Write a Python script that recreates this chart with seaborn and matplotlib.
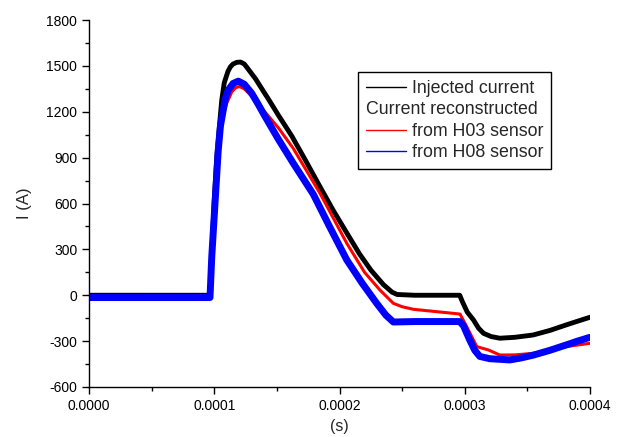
import numpy as np
import pandas as pd
import seaborn as sns
import matplotlib.pyplot as plt
from matplotlib.lines import Line2D
from matplotlib.ticker import MultipleLocator, FormatStrFormatter

# time in microseconds, current in A
t_inj = [0, 96.5, 98, 100, 102, 104.6, 106, 108, 111, 113, 115, 118, 121, 124, 127, 133, 138,
         145, 151, 162, 173, 184.4, 195, 206, 216, 225, 235, 242, 246, 260, 280, 296, 298,
         302, 307, 311, 315, 321, 328, 340, 354.5, 368, 381, 390, 400]
i_inj = [0, 0, 260, 620, 900, 1150, 1277, 1390, 1465, 1495, 1512, 1523, 1525, 1512, 1480, 1415, 1350,
         1260, 1180, 1040, 880, 710, 555, 405, 270, 165, 70, 20, 5, 0, 0, 0, -40,
         -110, -162, -215, -249, -270, -281, -275, -260, -230, -194, -170, -144]

t_h03 = [0, 96.6, 98.5, 101, 104.6, 107, 109.9, 114, 117, 120, 124, 130, 137.9, 151.2, 163.1,
         184.4, 205.8, 220, 232.3, 243, 250, 259, 285.6, 296.2, 301.6, 309.6, 319, 328,
         340, 354.5, 368, 381, 400]
i_h03 = [-10, -5, 250, 600, 1059, 1180, 1255, 1330, 1357, 1365, 1350, 1300, 1223, 1095, 960,
         667, 340, 150, 34, -53, -75, -92, -114, -123, -206, -336, -358, -391,
         -390, -380, -360, -336, -314]

t_h08 = [0, 96.6, 98, 100, 103.2, 105, 107.2, 109, 111.2, 115, 119.2, 124, 129.9, 135, 140.5,
         151.2, 163.1, 179.1, 192, 205.8, 218, 229.7, 237, 243, 260, 280, 296, 299, 304,
         308, 312, 320, 336, 345, 355, 368, 381, 390, 400]
i_h08 = [-15, -15, 250, 520, 950, 1110, 1212, 1290, 1342, 1385, 1400, 1380, 1321, 1250, 1170,
         1020, 863, 660, 450, 231, 80, -53, -130, -175, -172, -172, -172, -200, -293,
         -360, -400, -415, -423, -410, -391, -360, -325, -300, -275]

labels = ["Injected current", "from H03 sensor", "from H08 sensor"]

df_inj = pd.DataFrame({"t": np.array(t_inj) * 1e-6, "i": i_inj})
df_h03 = pd.DataFrame({"t": np.array(t_h03) * 1e-6, "i": i_h03})
df_h08 = pd.DataFrame({"t": np.array(t_h08) * 1e-6, "i": i_h08})

sns.set_style("ticks")
plt.rcParams["font.family"] = ["Liberation Sans", "DejaVu Sans"]
plt.rcParams["axes.unicode_minus"] = False

fig = plt.figure(figsize=(6.26, 4.37), dpi=100)
ax = fig.add_axes([89 / 626, 50 / 437, 501 / 626, 367 / 437])

sns.lineplot(data=df_inj, x="t", y="i", color="black", lw=3.5, ax=ax)
sns.lineplot(data=df_h03, x="t", y="i", color="red", lw=2.2, ax=ax)
sns.lineplot(data=df_h08, x="t", y="i", color="blue", lw=5.0, ax=ax)

ax.set_xlim(0, 0.0004)
ax.set_ylim(-600, 1800)
ax.xaxis.set_major_locator(MultipleLocator(0.0001))
ax.xaxis.set_minor_locator(MultipleLocator(0.00005))
ax.yaxis.set_major_locator(MultipleLocator(300))
ax.yaxis.set_minor_locator(MultipleLocator(150))
ax.xaxis.set_major_formatter(FormatStrFormatter("%.4f"))
ax.tick_params(which="major", length=5, width=1, labelsize=10, color="black", labelcolor="black")
ax.tick_params(which="minor", length=3, width=1, color="black")
for s in ["top", "right"]:
    ax.spines[s].set_visible(False)
for s in ["left", "bottom"]:
    ax.spines[s].set_color("black")
    ax.spines[s].set_linewidth(1)

ax.set_xlabel("(s)", fontsize=11.5, labelpad=4.5)
ax.set_ylabel("I (A)", fontsize=12, labelpad=10.5)

handles = [Line2D([], [], color="black", lw=1),
           Line2D([], [], color="none", lw=1),
           Line2D([], [], color="red", lw=1),
           Line2D([], [], color="blue", lw=1)]
leg = ax.legend(handles, [labels[0], " ", labels[1], labels[2]],
                loc="upper left", bbox_to_anchor=((358 - 89) / 501, (387 - 72) / 367),
                borderaxespad=0, fontsize=12.8, handlelength=2.25, handletextpad=0.32,
                labelspacing=0.25, borderpad=0.45, fancybox=False, framealpha=1,
                edgecolor="black")
leg.get_frame().set_linewidth(1)

fig.canvas.draw()
r = fig.canvas.get_renderer()
hb = leg.get_lines()[0].get_window_extent(r)
tb = leg.get_texts()[1].get_window_extent(r)
fig.text(hb.x0 / fig.bbox.width, tb.y0 / fig.bbox.height, "Current reconstructed",
         fontsize=12.8, va="bottom", ha="left")

fig.savefig("out.png", dpi=100)
